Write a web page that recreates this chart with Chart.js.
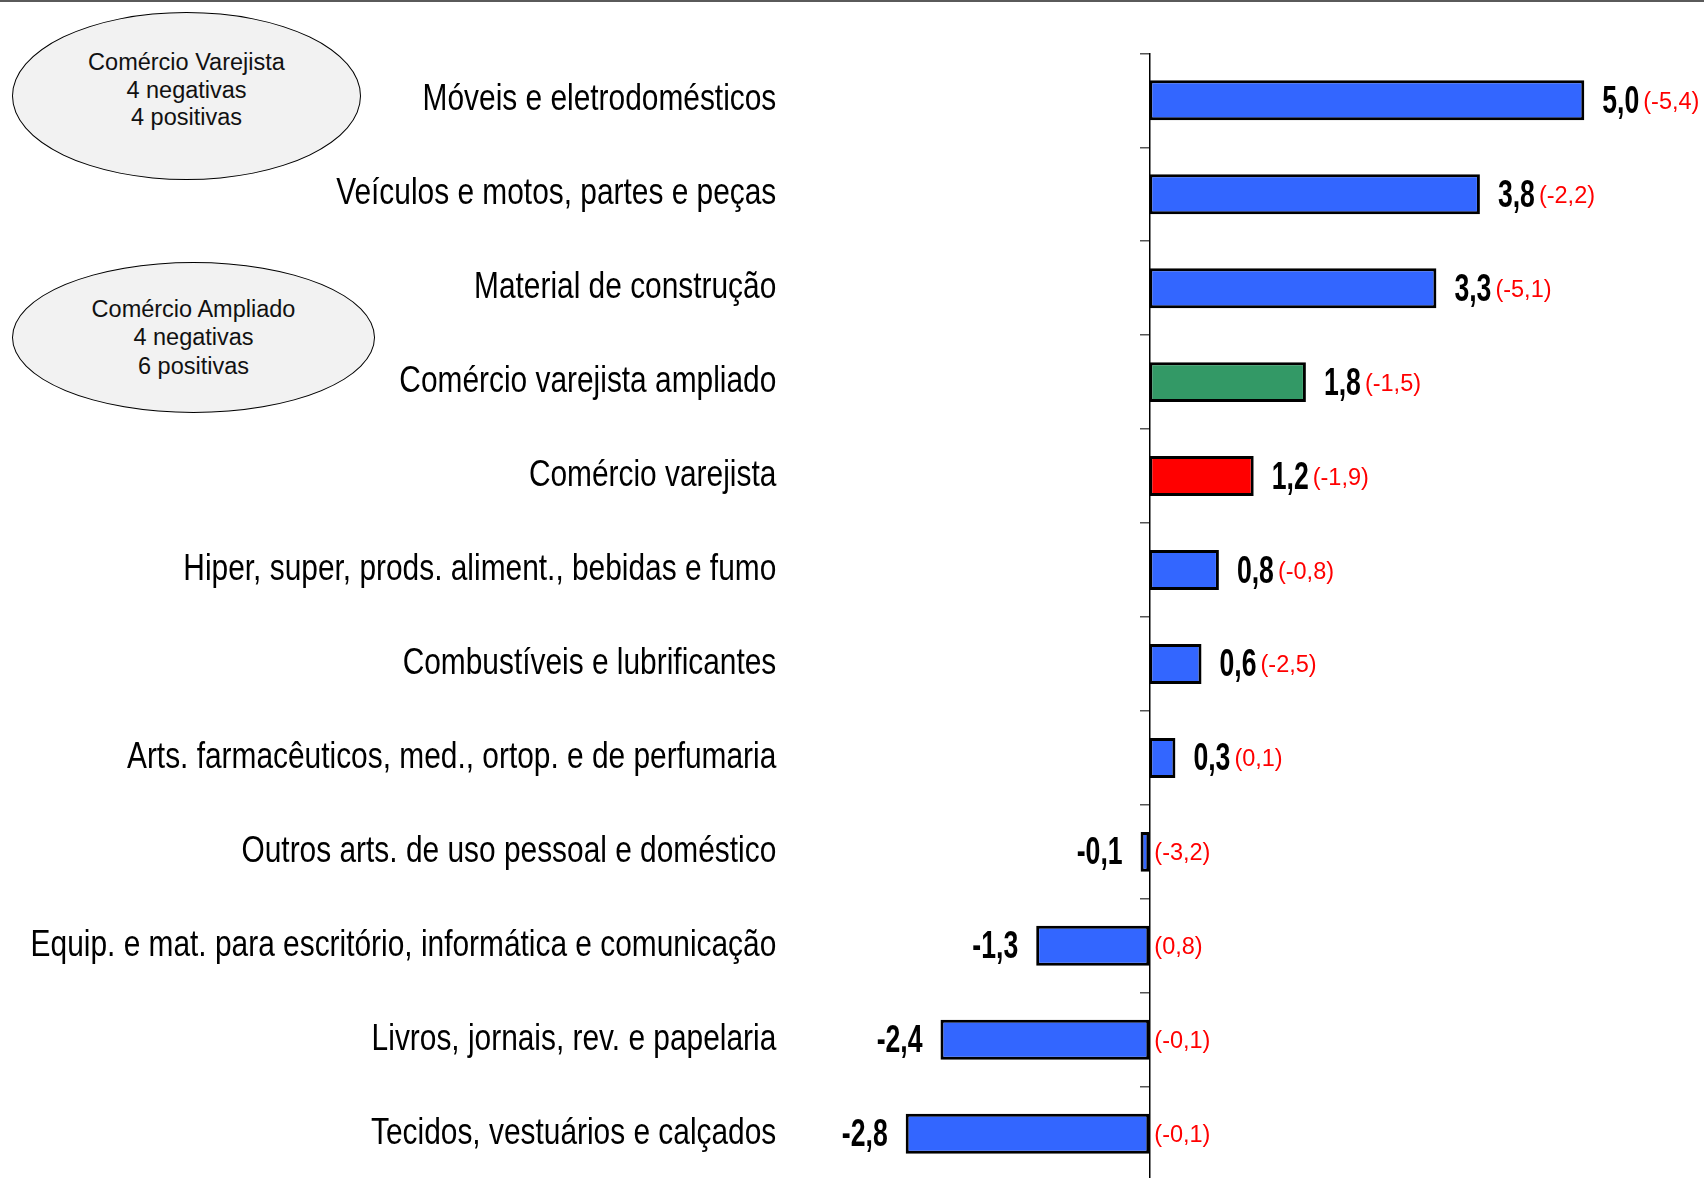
<!DOCTYPE html>
<html lang="pt-BR">
<head>
<meta charset="utf-8">
<title>Comércio varejista por atividade</title>
<script src="https://cdn.jsdelivr.net/npm/chart.js@4.4.1/dist/chart.umd.min.js"></script>
<style>
    html, body { margin: 0; padding: 0; background: #fff; overflow: hidden; }
    #wrap { position: relative; width: 1704px; height: 1182px; }
    #chart-box { position: absolute; left: 0; top: 0; width: 1704px; height: 1182px; }
    .top-rule { position: absolute; left: 0; top: 0; width: 1704px; height: 2px; background: #5a5a5a; z-index: 2; }
    .bubble {
        position: absolute; box-sizing: border-box; z-index: 2;
        border: 1.5px solid #000; border-radius: 50%; background: #f2f2f2;
        display: flex; align-items: center; justify-content: center; text-align: center;
        font-family: "Liberation Sans", Arial, sans-serif; font-size: 23.5px; color: #111;
    }
    #bubble-varejo { left: 12px; top: 12px; width: 349px; height: 168px; line-height: 27.5px; padding-bottom: 11px; }
    #bubble-ampliado { left: 12px; top: 262px; width: 363px; height: 151px; line-height: 28.5px; }
</style>
</head>
<body>
<div id="wrap">
    <div class="top-rule"></div>
    <div class="bubble" id="bubble-varejo"><div>Comércio Varejista<br>4 negativas<br>4 positivas</div></div>
    <div class="bubble" id="bubble-ampliado"><div>Comércio Ampliado<br>4 negativas<br>6 positivas</div></div>
    <div id="chart-box"><canvas id="chart"></canvas></div>
</div>
<script>
// --- Data ---
const categories = [
    'Móveis e eletrodomésticos',
    'Veículos e motos, partes e peças',
    'Material de construção',
    'Comércio varejista ampliado',
    'Comércio varejista',
    'Hiper, super, prods. aliment., bebidas e fumo',
    'Combustíveis e lubrificantes',
    'Arts. farmacêuticos, med., ortop. e de perfumaria',
    'Outros arts. de uso pessoal e doméstico',
    'Equip. e mat. para escritório, informática e comunicação',
    'Livros, jornais, rev. e papelaria',
    'Tecidos, vestuários e calçados'
];
const values = [5.0, 3.8, 3.3, 1.8, 1.2, 0.8, 0.6, 0.3, -0.1, -1.3, -2.4, -2.8];
// values shown in red, in brackets
const previousValues = [-5.4, -2.2, -5.1, -1.5, -1.9, -0.8, -2.5, 0.1, -3.2, 0.8, -0.1, -0.1];

// --- Styles ---
const BAR_BLUE = '#3366ff';
const specialColors = {
    'Comércio varejista ampliado': '#339966',
    'Comércio varejista': '#ff0000'
};
const SANS = '"Liberation Sans", Arial, sans-serif';
// no narrow font installed, so the text is squeezed sideways instead
const LABEL_SQUEEZE = 0.83;
const VALUE_SQUEEZE = 0.7;

const fmt = v => v.toFixed(1).replace('.', ',');

// category labels of the y axis drawn narrow (anchored at their right edge)
const narrowAxisLabels = {
    id: 'narrowAxisLabels',
    beforeDraw(chart) {
        const scale = chart.scales.y;
        if (scale._narrow) return;
        scale._narrow = true;
        const drawLabels = scale.drawLabels;
        scale._computeLabelArea = () => undefined; // the clip would be squeezed too
        scale.drawLabels = function (area) {
            const ctx = this.ctx;
            const anchor = this.right - this.options.ticks.padding;
            ctx.save();
            ctx.translate(anchor, 0);
            ctx.scale(LABEL_SQUEEZE, 1);
            ctx.translate(-anchor, 0);
            drawLabels.call(this, area);
            ctx.restore();
        };
    }
};

// bold value next to each bar and the red number in brackets
const valueLabels = {
    id: 'valueLabels',
    afterDatasetsDraw(chart) {
        const ctx = chart.ctx;
        const zeroX = chart.scales.x.getPixelForValue(0);
        ctx.save();
        ctx.textBaseline = 'middle';
        chart.getDatasetMeta(0).data.forEach((bar, i) => {
            const v = values[i];
            const label = fmt(v);
            const note = '(' + fmt(previousValues[i]) + ')';
            ctx.font = 'bold 38px ' + SANS;
            ctx.fillStyle = '#000';
            const w = ctx.measureText(label).width * VALUE_SQUEEZE;
            const x = v >= 0 ? bar.x + 18 : bar.x - 18 - w;
            ctx.save();
            ctx.translate(x, bar.y + 2);
            ctx.scale(VALUE_SQUEEZE, 1);
            ctx.textAlign = 'left';
            ctx.fillText(label, 0, 0);
            ctx.restore();

            const noteX = v >= 0 ? x + w + 4 : zeroX + 5;
            ctx.font = '23.5px ' + SANS;
            ctx.fillStyle = '#ff0000';
            ctx.textAlign = 'left';
            ctx.fillText(note, noteX, bar.y + 2);
        });
        ctx.restore();
    }
};

new Chart(document.getElementById('chart'), {
    type: 'bar',
    data: {
        labels: categories,
        datasets: [{
            data: values,
            backgroundColor: categories.map(c => specialColors[c] || BAR_BLUE),
            borderColor: '#000',
            borderWidth: 3,
            borderSkipped: false,
            barPercentage: 0.425,
            categoryPercentage: 1
        }]
    },
    options: {
        indexAxis: 'y',
        responsive: true,
        maintainAspectRatio: false,
        animation: false,
        events: [],
        layout: { padding: { left: 0, right: 32.7, top: 53.3, bottom: 1.3 } },
        plugins: {
            legend: { display: false },
            tooltip: { enabled: false }
        },
        scales: {
            x: { type: 'linear', display: false, min: -4, max: 6 },
            y: {
                position: 'left',
                grid: { display: false, drawTicks: false },
                border: { display: false },
                ticks: { color: '#000', padding: 25, font: { family: SANS, size: 36 } },
                afterFit(scale) {
                    scale.width = 801.3;
                    scale.paddingTop = 0;
                    scale.paddingBottom = 0;
                }
            },
            // zero line with the small category ticks
            y2: {
                axis: 'y',
                type: 'category',
                position: { x: 0 },
                offset: true,
                grid: { offset: true, drawOnChartArea: false, tickLength: 9, color: '#555', lineWidth: 1.5 },
                border: { color: '#000', width: 1.5 },
                ticks: { display: false }
            }
        }
    },
    plugins: [narrowAxisLabels, valueLabels]
});
</script>
</body>
</html>
